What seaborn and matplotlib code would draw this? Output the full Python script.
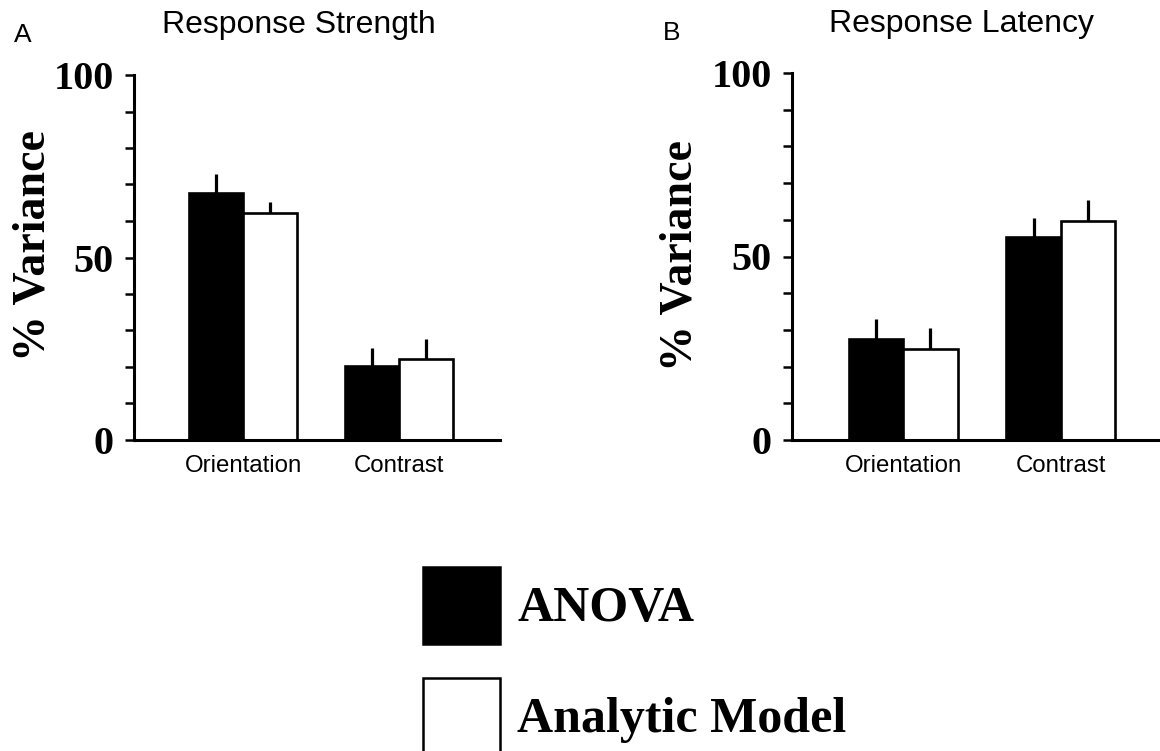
import numpy as np
import pandas as pd
import matplotlib
matplotlib.use("Agg")
import matplotlib.pyplot as plt
import seaborn as sns
from matplotlib.patches import Patch
from matplotlib.ticker import FixedLocator, MultipleLocator

# ---- data ----
categories = ["Orientation", "Contrast"]
methods = ["ANOVA", "Analytic Model"]
strength_anova = [67.6, 20.4]
strength_analytic = [62.1, 22.1]
strength_anova_err = [5.2, 4.9]
strength_analytic_err = [3.2, 5.6]
latency_anova = [27.5, 55.2]
latency_analytic = [24.7, 59.8]
latency_anova_err = [5.4, 5.2]
latency_analytic_err = [5.7, 5.6]
panel_titles = ["Response Strength", "Response Latency"]
panel_letters = ["A", "B"]
y_ticks = [0, 50, 100]
y_label = "% Variance"

sns.set_style("ticks")
plt.rcParams["font.family"] = ["Liberation Sans", "DejaVu Sans"]
for k in ("text.color", "axes.labelcolor", "xtick.color", "ytick.color", "axes.edgecolor"):
    plt.rcParams[k] = "black"

W, H = 1160, 751
fig = plt.figure(figsize=(W / 100, H / 100), dpi=100)

def frac_x(px):
    return px / W

def frac_y(py):
    return 1 - py / H

serif_bold = dict(family=["Liberation Serif", "DejaVu Serif"], weight="bold")

panels = [
    dict(vals=(strength_anova, strength_analytic), errs=(strength_anova_err, strength_analytic_err),
         rect=(134, 75, 500, 440), xlim=(-0.699, 1.647), title_x=0.45, title_y=1.115,
         letter_xy=(14, 42), ylab_xy=(-0.216, 0.534)),
    dict(vals=(latency_anova, latency_analytic), errs=(latency_anova_err, latency_analytic_err),
         rect=(792, 73, 1160, 440), xlim=(-0.707, 1.63), title_x=0.461, title_y=1.1125,
         letter_xy=(663, 40), ylab_xy=(-0.245, 0.504)),
]

for i, p in enumerate(panels):
    l, t, r, b = p["rect"]
    ax = fig.add_axes([frac_x(l), frac_y(b), (r - l) / W, (b - t) / H])
    df = pd.DataFrame({
        "category": categories * 2,
        "method": [methods[0]] * 2 + [methods[1]] * 2,
        "value": list(p["vals"][0]) + list(p["vals"][1]),
    })
    sns.barplot(data=df, x="category", y="value", hue="method", order=categories,
                hue_order=methods, palette=["black", "white"], edgecolor="black",
                linewidth=1.9, width=0.69, errorbar=None, legend=False, ax=ax)
    # upper-only error bars
    for cont, errs, vals in zip(ax.containers, p["errs"], p["vals"]):
        for bar, e, v in zip(cont.patches, errs, vals):
            xc = bar.get_x() + bar.get_width() / 2
            ax.vlines(xc, v, v + e, color="black", lw=2.3, zorder=5)
    ax.set_xlim(*p["xlim"])
    ax.set_ylim(0, 100)
    ax.yaxis.set_major_locator(FixedLocator(y_ticks))
    ax.yaxis.set_minor_locator(MultipleLocator(10))
    ax.set_yticklabels([str(v) for v in y_ticks], fontdict=dict(size=29, **serif_bold))
    ax.tick_params(axis="y", which="both", direction="out", length=6.5, width=1.8, pad=8,
                   color="black")
    ax.tick_params(axis="x", length=0, pad=11, labelsize=17.3, labelcolor="black")
    ax.set_xlabel("")
    ax.set_ylabel(y_label, fontsize=33, **serif_bold)
    ax.yaxis.set_label_coords(*p["ylab_xy"])
    sns.despine(ax=ax)
    for s in ("left", "bottom"):
        ax.spines[s].set_linewidth(2.2)
        ax.spines[s].set_color("black")
    ax.set_title(panel_titles[i], x=p["title_x"], y=p["title_y"], pad=0, fontsize=23)
    fig.text(frac_x(p["letter_xy"][0]), frac_y(p["letter_xy"][1]), panel_letters[i],
             fontsize=19, va="baseline", ha="left")
    ax.set_facecolor("none")

handles = [Patch(facecolor="black", edgecolor="black", lw=1.8),
           Patch(facecolor="white", edgecolor="black", lw=1.8)]
fig.legend(handles=handles, labels=methods, loc="upper left",
           bbox_to_anchor=(frac_x(423), frac_y(567)), frameon=False,
           prop=dict(family="Liberation Serif", weight="bold", size=36),
           handlelength=1.54, handleheight=1.99, handletextpad=0.34,
           labelspacing=0.68, borderpad=0, borderaxespad=0)

fig.savefig("out.png", dpi=100, facecolor="white")
